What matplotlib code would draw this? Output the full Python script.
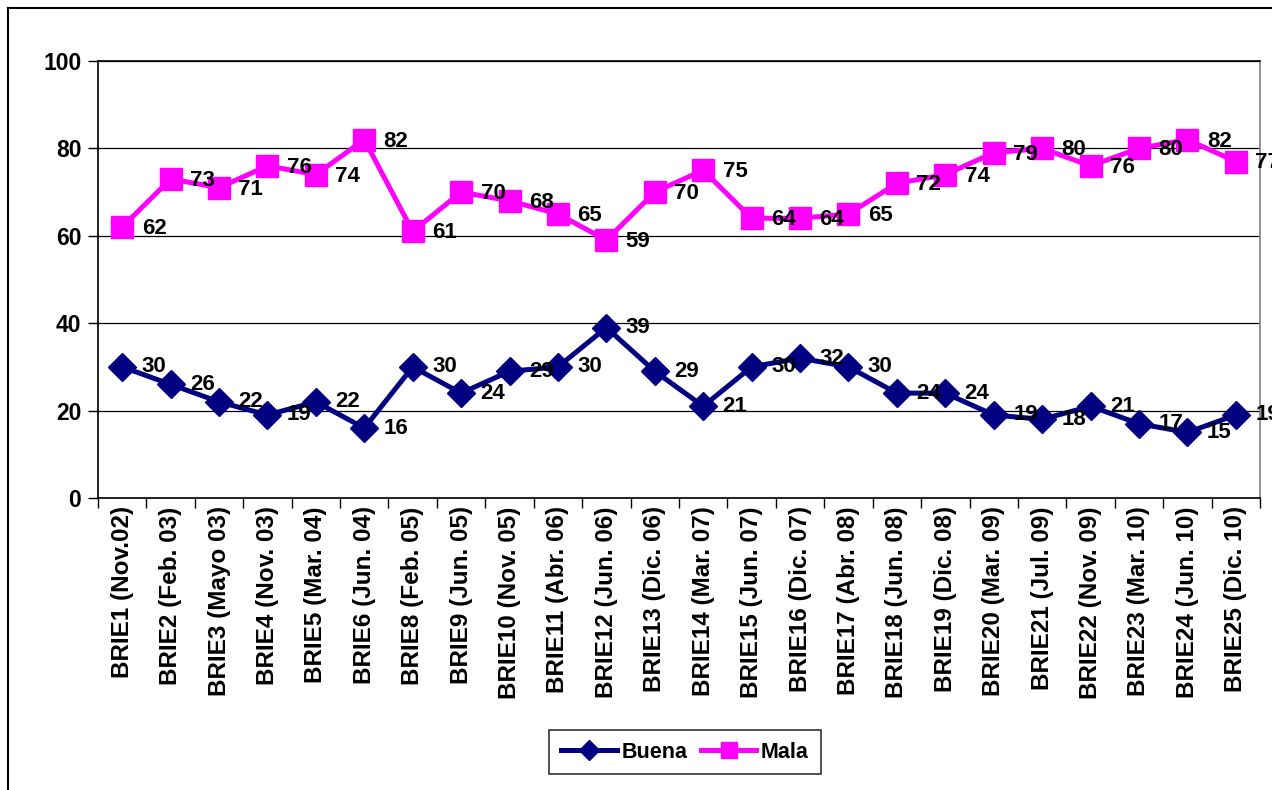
import matplotlib.pyplot as plt
from matplotlib.lines import Line2D

plt.rcParams['font.family'] = ['Liberation Sans', 'DejaVu Sans']
plt.rcParams['font.weight'] = 'bold'

categories = ["BRIE1 (Nov.02)", "BRIE2 (Feb. 03)", "BRIE3 (Mayo 03)", "BRIE4 (Nov. 03)",
              "BRIE5 (Mar. 04)", "BRIE6 (Jun. 04)", "BRIE8 (Feb. 05)", "BRIE9 (Jun. 05)",
              "BRIE10 (Nov. 05)", "BRIE11 (Abr. 06)", "BRIE12 (Jun. 06)", "BRIE13 (Dic. 06)",
              "BRIE14 (Mar. 07)", "BRIE15 (Jun. 07)", "BRIE16 (Dic. 07)", "BRIE17 (Abr. 08)",
              "BRIE18 (Jun. 08)", "BRIE19 (Dic. 08)", "BRIE20 (Mar. 09)", "BRIE21 (Jul. 09)",
              "BRIE22 (Nov. 09)", "BRIE23 (Mar. 10)", "BRIE24 (Jun. 10)", "BRIE25 (Dic. 10)"]
buena = [30, 26, 22, 19, 22, 16, 30, 24, 29, 30, 39, 29, 21, 30, 32, 30, 24, 24, 19, 18, 21, 17, 15, 19]
mala = [62, 73, 71, 76, 74, 82, 61, 70, 68, 65, 59, 70, 75, 64, 64, 65, 72, 74, 79, 80, 76, 80, 82, 77]

fig = plt.figure(figsize=(12.72, 7.90), dpi=100)
ax = fig.add_axes([98 / 1272, 1 - 498 / 790, (1260 - 98) / 1272, (498 - 61) / 790])

x = list(range(len(categories)))
ax.plot(x, buena, color='#000080', lw=3.6, marker='D', ms=14, label='Buena')
ax.plot(x, mala, color='#FF00FF', lw=3.6, marker='s', ms=15.5, label='Mala')

for xi, v in zip(x, buena):
    ax.annotate(str(v), (xi, v), xytext=(14, 0), textcoords='offset points',
                ha='left', va='center', fontsize=16, fontweight='bold', annotation_clip=False)
for xi, v in zip(x, mala):
    ax.annotate(str(v), (xi, v), xytext=(14, -1), textcoords='offset points',
                ha='left', va='center', fontsize=16, fontweight='bold', annotation_clip=False)

ax.set_xlim(-0.5, len(categories) - 0.5)
ax.set_ylim(0, 100)
ax.set_yticks([0, 20, 40, 60, 80, 100])
ax.yaxis.grid(True, color='black', lw=0.9)
ax.set_axisbelow(True)
ax.set_xticks([i - 0.5 for i in range(len(categories) + 1)], minor=False)
ax.set_xticklabels([])
ax.set_xticks(x, minor=True)
ax.set_xticklabels(categories, minor=True, rotation=90, fontsize=17.5, fontweight='bold')
ax.tick_params(axis='x', which='minor', length=0, pad=6)
ax.tick_params(axis='x', which='major', length=7, direction='out', width=1)
ax.tick_params(axis='y', length=7, width=1, labelsize=16.5, pad=5)
for s in ax.spines.values():
    s.set_linewidth(1.2)
    s.set_color('black')
ax.spines['right'].set_color('#808080')

leg = ax.legend(loc='center', bbox_to_anchor=(685 / 1272, 1 - 752 / 790),
                bbox_transform=fig.transFigure, ncol=2, frameon=True, fancybox=False,
                prop={'weight': 'bold', 'size': 15.5}, handlelength=2.6, columnspacing=0.6,
                handletextpad=0.2, borderpad=0.55, markerscale=0.75)
leg.get_frame().set_edgecolor('black')
leg.get_frame().set_linewidth(1.2)

fig.add_artist(Line2D([8 / 1272, 8 / 1272], [0, 1 - 8 / 790], color='black', lw=1.5,
                      transform=fig.transFigure))
fig.add_artist(Line2D([8 / 1272, 1], [1 - 8 / 790, 1 - 8 / 790], color='black', lw=1.5,
                      transform=fig.transFigure))

fig.savefig('out.png', dpi=100)
